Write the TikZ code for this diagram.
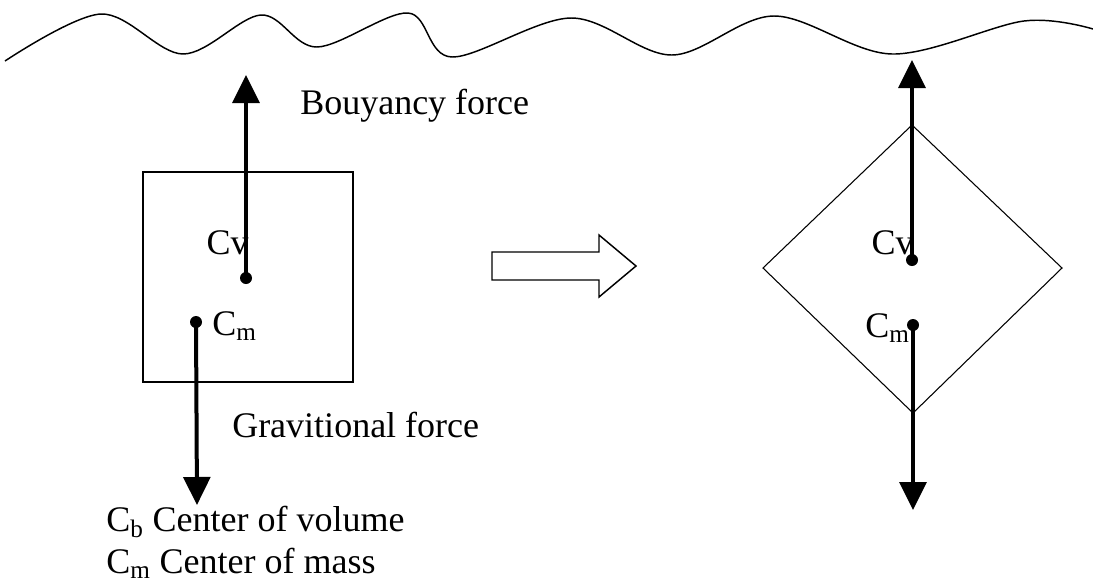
\documentclass[tikz,border=0pt]{standalone}
\usepackage{fontspec}
\setmainfont{Liberation Serif}
\usetikzlibrary{arrows.meta}
\begin{document}
\begin{tikzpicture}[x=0.75pt,y=-0.75pt,
  outline/.style={draw=black,line width=1.1pt},
  thinoutline/.style={draw=black,line width=0.8pt},
  force/.style={draw=black,line width=3pt,-{Triangle[width=20pt,length=21pt]}},
  lbl/.style={inner sep=0pt,font=\fontsize{27}{32}\selectfont},
  dotmark/.style={fill=black}
]
\useasboundingbox (0,0) rectangle (1093,583);
% water surface
\draw[line width=1.1pt] plot[smooth,tension=0.55] coordinates {(5,61) (101,14) (183,54) (261,15) (317,47) (408,13) (452,57) (571,18) (672,55) (774,16) (892,54) (1024,21) (1093,29)};
% left box
\draw[outline] (143,172) rectangle (353,382);
\coordinate (cvL) at (246,278);
\coordinate (cmL) at (196,322);
\coordinate (upL) at (246,75);
\coordinate (downL) at (197,505);
\draw[force] (cvL) -- (upL);
\draw[force] (cmL) -- (downL);
\fill[dotmark] (cvL) circle (6);
\fill[dotmark] (cmL) circle (6);
\node[lbl,anchor=east] (cvlabelL) at (249,243) {Cv};
\node[lbl,anchor=west] (cmlabelL) at (212,326) {C\textsubscript{m}};
\node[lbl,anchor=west] (buoy) at (300,106) {Bouyancy force};
\node[lbl,anchor=west] (grav) at (232,425) {Gravitional force};
\node[lbl,anchor=west] (leg1) at (106,522) {C\textsubscript{b} Center of volume};
\node[lbl,anchor=west] (leg2) at (106,563) {C\textsubscript{m} Center of mass};
% transition arrow
\draw[outline] (492,252) -- (599,252) -- (599,235) -- (636,266) -- (599,297) -- (599,280) -- (492,280) -- cycle;
% right diamond
\draw[thinoutline] (912,125) -- (1062,268) -- (913,413) -- (763,268) -- cycle;
\coordinate (cvR) at (912,260);
\coordinate (cmR) at (913,325);
\coordinate (upR) at (912,60);
\coordinate (downR) at (913,510);
\draw[force] (cvR) -- (upR);
\draw[force] (cmR) -- (downR);
\fill[dotmark] (cvR) circle (6);
\fill[dotmark] (cmR) circle (6);
\node[lbl,anchor=east] (cvlabelR) at (914,243) {Cv};
\node[lbl,anchor=east] (cmlabelR) at (910,328) {C\textsubscript{m}};
\end{tikzpicture}
\end{document}
